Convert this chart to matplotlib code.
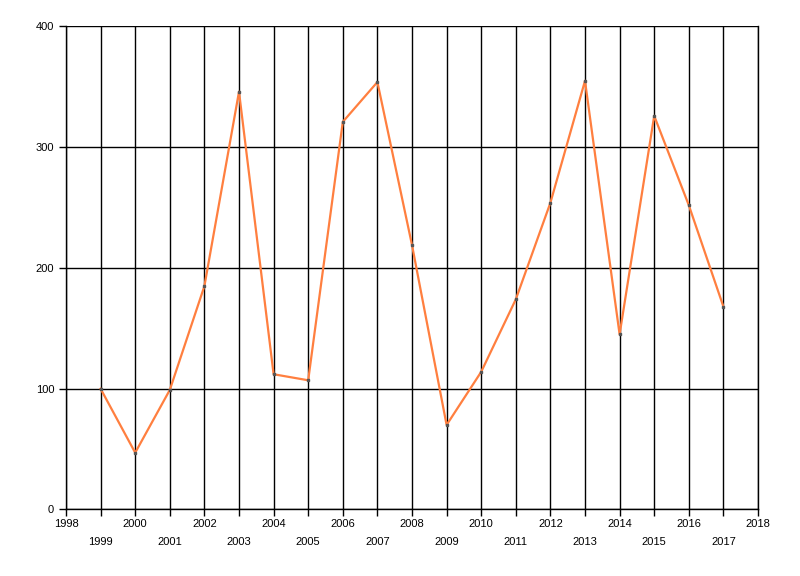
import matplotlib
matplotlib.use('Agg')
import matplotlib.pyplot as plt

years = list(range(1999, 2018))
values = [100, 47, 99, 185, 346, 112, 107, 321, 354, 219, 70, 114, 174, 254, 355, 145, 326, 252, 168]

x_ticks = list(range(1998, 2019))
y_ticks = [0, 100, 200, 300, 400]

plt.rcParams['font.family'] = ['Liberation Sans', 'DejaVu Sans']

fig = plt.figure(figsize=(8, 5.76), dpi=100)
ax = fig.add_axes([0.0825, 0.1155, 0.865, 0.8385])

ax.plot(years, values, color='#ff7f3f', linewidth=1.6, marker='s', markersize=1.8,
        markerfacecolor='#555555', markeredgecolor='#555555', zorder=3)

ax.set_xlim(1998, 2018)
ax.set_ylim(0, 400)
ax.set_xticks(x_ticks)
ax.set_xticklabels([str(y) for y in x_ticks])
ax.set_yticks(y_ticks)
ax.set_yticklabels([str(v) for v in y_ticks])

ax.grid(True, color='black', linewidth=1.0)
ax.set_axisbelow(True)

# right edge shows as the 2018 gridline in the original
ax.spines['top'].set_visible(False)
for s in ['left', 'bottom', 'right']:
    ax.spines[s].set_linewidth(1.0)

ax.tick_params(axis='both', length=5, width=1.0, labelsize=8, color='black')
ax.tick_params(axis='x', pad=2)

# stagger the odd years to a second row
for tick, yr in zip(ax.xaxis.get_major_ticks(), x_ticks):
    if yr % 2 == 1:
        tick.set_pad(15)

plt.savefig('out.png', dpi=100)
